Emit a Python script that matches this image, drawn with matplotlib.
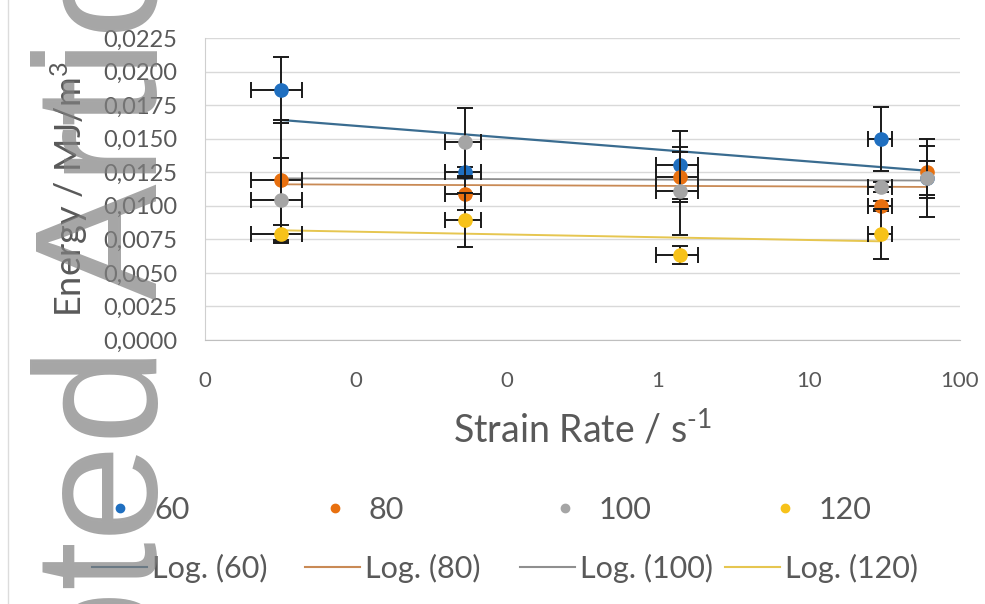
import numpy as np
import matplotlib
matplotlib.use("Agg")
import matplotlib.pyplot as plt
from matplotlib.lines import Line2D
from matplotlib.ticker import NullLocator

plt.rcParams['font.family'] = ['Lato', 'DejaVu Sans']
plt.rcParams['mathtext.fontset'] = 'custom'
plt.rcParams['mathtext.rm'] = 'Lato'
plt.rcParams['mathtext.default'] = 'regular'
plt.rcParams['axes.unicode_minus'] = False

# ---------------- data ----------------
strain_rate = [0.0032, 0.053, 1.4, 30.0, 60.0]
strain_rate_err = [0.00117, 0.0139, 0.43, 5.4, np.nan]

series_names = ["60", "80", "100", "120"]
energy_60 = [0.01863, 0.01252, 0.01304, 0.01497, 0.01210]
err_60 = [0.00246, 0.00037, 0.00253, 0.00238, 0.00127]
energy_80 = [0.01192, 0.01088, 0.01214, 0.00998, 0.01252]
err_80 = [0.00447, 0.00120, 0.00186, 0.00040, 0.00194]
energy_100 = [0.01043, 0.01475, 0.01110, 0.01140, 0.01207]
err_100 = [0.00313, 0.00253, 0.00328, 0.00040, 0.00290]
energy_120 = [0.00790, 0.00894, 0.00633, 0.00790, np.nan]
err_120 = [0.00067, 0.00200, 0.00070, 0.00186, np.nan]

x_ticks = [0.001, 0.01, 0.1, 1, 10, 100]
x_tick_labels = ["0", "0", "0", "1", "10", "100"]
y_ticks = [0.0, 0.0025, 0.005, 0.0075, 0.01, 0.0125, 0.015, 0.0175, 0.02, 0.0225]
y_tick_labels = ["0,0000", "0,0025", "0,0050", "0,0075", "0,0100", "0,0125",
                 "0,0150", "0,0175", "0,0200", "0,0225"]

energies = [energy_60, energy_80, energy_100, energy_120]
errors = [err_60, err_80, err_100, err_120]

marker_colors = ["#1f6fc0", "#e8700f", "#a5a5a5", "#f7c21a"]
trend_colors = ["#3a6c90", "#c98a55", "#8f8f8f", "#e6c650"]
trend_widths = [1.6, 1.3, 1.3, 1.4]
text_color = "#595959"

# ---------------- figure ----------------
fig = plt.figure(figsize=(9.85, 6.04), dpi=100)
ax = fig.add_axes([205/985, 1-340/604, 755/985, 302/604])

ax.set_xscale('log')
ax.set_xlim(0.001, 100)
ax.set_ylim(0, 0.0225)

xs = np.array(strain_rate, dtype=float)
xe = np.array(strain_rate_err, dtype=float)

for i, name in enumerate(series_names):
    ys = np.array(energies[i], dtype=float)
    ye = np.array(errors[i], dtype=float)
    ok = np.isfinite(ys)
    ax.errorbar(xs[ok], ys[ok], yerr=ye[ok], xerr=xe[ok],
                fmt='o', color=marker_colors[i], markersize=9.5,
                ecolor='#1a1a1a', elinewidth=1.4, capsize=5.5, capthick=1.4,
                zorder=4 + i)
    # logarithmic trendline (least squares on ln x)
    k, b = np.polyfit(np.log(xs[ok]), ys[ok], 1)
    xt = np.geomspace(xs[ok].min(), xs[ok].max(), 100)
    ax.plot(xt, k*np.log(xt) + b, color=trend_colors[i], lw=trend_widths[i], zorder=3)

ax.set_xticks(x_ticks)
ax.set_xticklabels(x_tick_labels)
ax.xaxis.set_minor_locator(NullLocator())
ax.set_yticks(y_ticks)
ax.set_yticklabels(y_tick_labels)
ax.tick_params(axis='both', length=0, colors=text_color)
ax.tick_params(axis='y', labelsize=17, pad=20)
ax.tick_params(axis='x', labelsize=16, pad=22)

ax.grid(axis='y', color='#d9d9d9', lw=1)
ax.set_axisbelow(True)
for s in ['top', 'right']:
    ax.spines[s].set_visible(False)
ax.spines['bottom'].set_color('#bfbfbf')
ax.spines['left'].set_color('#cfcfcf')

ax.set_xlabel(r"Strain Rate / s$^{\text{-}1}$", fontsize=27, color=text_color)
ax.xaxis.set_label_coords(0.5, -0.232)
ax.set_ylabel("Energy / MJ/m$^{3}$", fontsize=26, color=text_color)
ax.yaxis.set_label_coords(-0.152, 0.5)

# ---------------- legend (two rows, Excel style) ----------------
row1_x = [105, 320, 550, 770]
row2_x = [92, 305, 520, 725]
for i, name in enumerate(series_names):
    h = Line2D([], [], marker='o', ls='', color=marker_colors[i], markersize=6)
    fig.legend([h], [name], loc='center left',
               bbox_to_anchor=(row1_x[i]/985, 1-510/604),
               frameon=False, fontsize=22, labelcolor=text_color,
               handlelength=1.0, handletextpad=0.6, borderpad=0, borderaxespad=0)
    h2 = Line2D([], [], color=trend_colors[i], lw=1.5)
    fig.legend([h2], ["Log. (%s)" % name], loc='center left',
               bbox_to_anchor=(row2_x[i]/985, 1-568/604),
               frameon=False, fontsize=22, labelcolor=text_color,
               handlelength=1.8, handletextpad=0.16, borderpad=0, borderaxespad=0)

# chart area border line on the left
fig.add_artist(Line2D([8/985, 8/985], [0, 1], transform=fig.transFigure,
                      color='#dcdcdc', lw=1))

# watermark
wm = dict(rotation=90, rotation_mode='anchor', va='baseline', fontsize=126,
          family='Liberation Sans', color='#808080', alpha=0.7, zorder=20)
fig.text(157/985, 1-300/604, "Article", ha='left', **wm)
fig.text(157/985, 1-346/604, "Accepted", ha='right', **wm)

fig.savefig("out.png", dpi=100)
